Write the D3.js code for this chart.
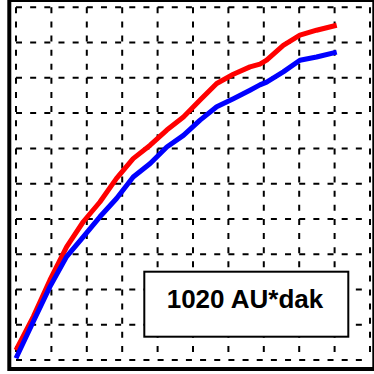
<!DOCTYPE html>
<html>
<head>
<meta charset="utf-8">
<script src="https://cdn.jsdelivr.net/npm/d3@7"></script>
<style>
  html, body { margin: 0; padding: 0; background: #fff; }
  svg { display: block; }
</style>
</head>
<body>
<svg id="graph" width="374" height="374"></svg>
<script>
// values, in grid units (10 x 10 grid)
const xValues = [0, 0.49, 0.96, 1.43, 1.90, 2.37, 2.84, 3.31, 3.79, 4.26, 4.73,
                 5.20, 5.67, 6.14, 6.61, 6.89, 7.08, 7.55, 8.02, 8.49, 9.06];
const redValues = [0.28, 1.23, 2.27, 3.21, 3.92, 4.48, 5.15, 5.71, 6.09, 6.52, 6.89,
                   7.37, 7.84, 8.10, 8.31, 8.39, 8.50, 8.92, 9.21, 9.35, 9.49];
const blueValues = [0.05, 1.09, 2.08, 2.93, 3.49, 4.06, 4.58, 5.19, 5.57, 6.04, 6.37,
                    6.80, 7.18, 7.41, 7.65, 7.80, 7.88, 8.17, 8.50, 8.59, 8.73];
const gridTicks = d3.range(0, 11);
const labelText = '1020 AU*dak';

(function() {

const svg = d3.select('#graph');

const x = d3.scaleLinear().domain([0, 10]).range([16, 370]);
const y = d3.scaleLinear().domain([0, 10]).range([360, 7.3]);

// dashes: 2.5 dash periods per grid cell, so corners alternate like the original
const cellW = x(1) - x(0);
const cellH = y(0) - y(1);
const dashX = `6,${(cellW / 2.5 - 6).toFixed(2)}`;
const dashY = `6,${(cellH / 2.5 - 6).toFixed(2)}`;

const grid = svg.append('g')
  .attr('stroke', '#000')
  .attr('stroke-width', 2)
  .attr('fill', 'none');

grid.selectAll('.h')
  .data(gridTicks)
  .enter().append('line')
    .attr('class', 'h')
    .attr('x1', x(0)).attr('x2', x(10))
    .attr('y1', d => y(d)).attr('y2', d => y(d))
    .attr('stroke-dasharray', dashX);

grid.selectAll('.v')
  .data(gridTicks)
  .enter().append('line')
    .attr('class', 'v')
    .attr('y1', y(10)).attr('y2', y(0))
    .attr('x1', d => x(d)).attr('x2', d => x(d))
    .attr('stroke-dasharray', dashY);

const line = d3.line()
  .x((d, i) => x(xValues[i]))
  .y(d => y(d));

svg.append('path')
  .datum(redValues)
  .attr('d', line)
  .attr('fill', 'none')
  .attr('stroke', '#ff0000')
  .attr('stroke-width', 5)
  .attr('stroke-linejoin', 'round');

svg.append('path')
  .datum(blueValues)
  .attr('d', line)
  .attr('fill', 'none')
  .attr('stroke', '#0000ff')
  .attr('stroke-width', 5)
  .attr('stroke-linejoin', 'round');

// label box
svg.append('rect')
  .attr('x', 144.3).attr('y', 271.7)
  .attr('width', 204).attr('height', 65)
  .attr('fill', '#fff')
  .attr('stroke', '#000')
  .attr('stroke-width', 2);

svg.append('text')
  .attr('x', 245).attr('y', 308)
  .attr('text-anchor', 'middle')
  .style('font-family', '"Liberation Sans", Arial, sans-serif')
  .style('font-weight', 'bold')
  .style('font-size', '26px')
  .text(labelText);

// outer frame, partly cut off at top and right
svg.append('rect')
  .attr('x', 9.3).attr('y', 0)
  .attr('width', 365).attr('height', 369)
  .attr('fill', 'none')
  .attr('stroke', '#000')
  .attr('stroke-width', 4);

})();
</script>
</body>
</html>
